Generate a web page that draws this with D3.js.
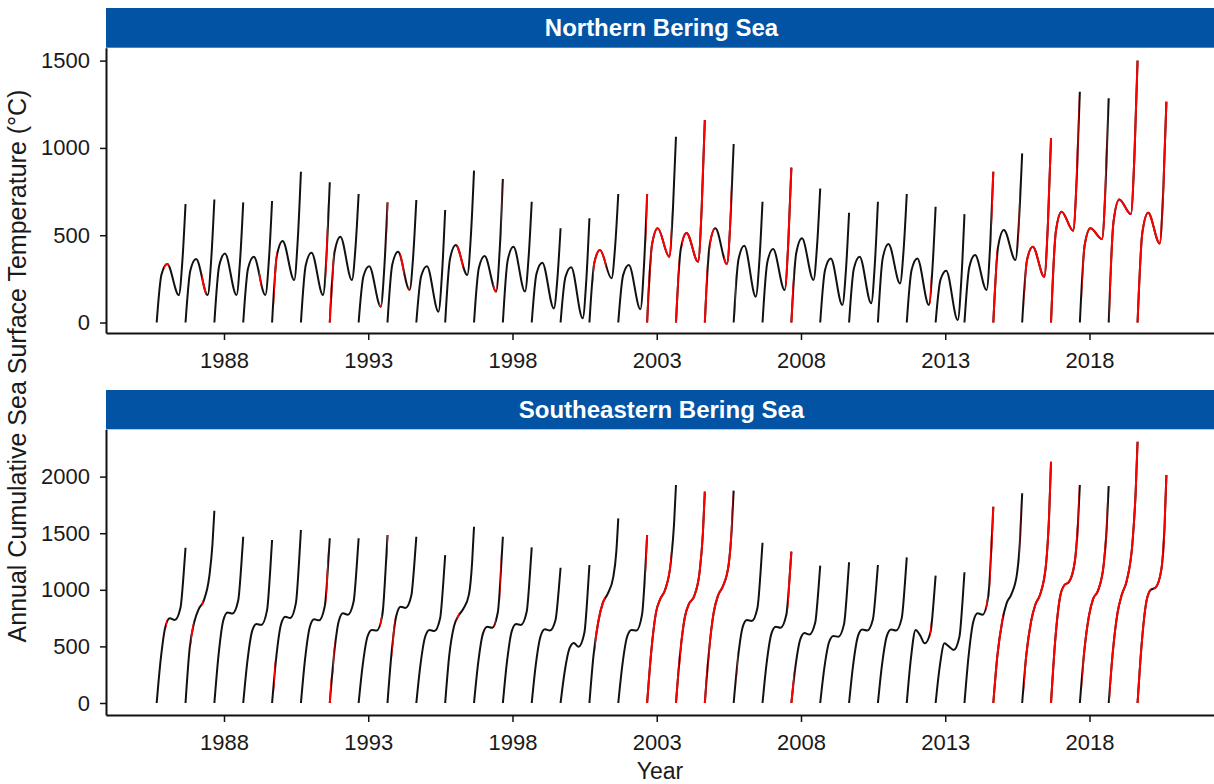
<!DOCTYPE html>
<html>
<head>
<meta charset="utf-8">
<script src="https://cdn.jsdelivr.net/npm/d3@7/dist/d3.min.js"></script>
<style>
  body { margin: 0; background: #fff; }
  text { font-family: Arial, "Liberation Sans", sans-serif; }
</style>
</head>
<body>
<svg id="chart" width="1214" height="784"></svg>
<script>
// each season runs from 1 Sep of the start year to 31 Aug of the next
const seasonStarts = [1985, 1986, 1987, 1988, 1989, 1990, 1991, 1992, 1993, 1994,
  1995, 1996, 1997, 1998, 1999, 2000, 2001, 2002, 2003, 2004,
  2005, 2006, 2007, 2008, 2009, 2010, 2011, 2012, 2013, 2014,
  2015, 2016, 2017, 2018, 2019];

// months after 1 Sep where the cumulative values were read
const northMonths = [0, 2.0, 4.4, 9.2, 10.7, 12];
const southMonths = [0, 1.7, 3.7, 5.5, 7.5, 9.9, 11.2, 12];

const northValues = [
  [0, 275, 335, 157, 355, 679],
  [0, 298, 364, 157, 365, 705],
  [0, 325, 396, 157, 359, 688],
  [0, 309, 377, 157, 362, 696],
  [0, 383, 467, 243, 479, 864],
  [0, 328, 400, 157, 402, 803],
  [0, 403, 491, 243, 430, 736],
  [0, 265, 323, 91, 318, 688],
  [0, 332, 405, 186, 382, 702],
  [0, 265, 323, 62, 283, 644],
  [0, 364, 444, 272, 499, 870],
  [0, 312, 381, 177, 422, 822],
  [0, 356, 434, 177, 373, 692],
  [0, 281, 343, 81, 255, 540],
  [0, 259, 316, 24, 242, 597],
  [0, 340, 415, 253, 437, 736],
  [0, 270, 329, 76, 327, 736],
  [0, 443, 540, 377, 638, 1064],
  [0, 421, 513, 348, 657, 1160],
  [0, 443, 540, 335, 596, 1022],
  [0, 361, 440, 148, 355, 692],
  [0, 345, 421, 186, 452, 887],
  [0, 395, 482, 243, 443, 768],
  [0, 301, 367, 100, 301, 629],
  [0, 309, 377, 110, 331, 692],
  [0, 369, 450, 224, 419, 736],
  [0, 301, 367, 100, 314, 663],
  [0, 244, 297, 14, 245, 621],
  [0, 317, 387, 186, 444, 864],
  [0, 435, 530, 358, 590, 969],
  [0, 356, 434, 262, 563, 1055],
  [0, 521, 635, 526, 828, 1322],
  [0, 443, 540, 478, 784, 1284],
  [0, 578, 705, 621, 955, 1500],
  [0, 516, 629, 453, 762, 1265]
];

const southValues = [
  [0, 389, 681, 748, 733, 842, 1136, 1372],
  [0, 480, 720, 830, 900, 1120, 1400, 1699],
  [0, 416, 728, 800, 790, 905, 1218, 1469],
  [0, 363, 635, 698, 690, 818, 1163, 1440],
  [0, 396, 693, 762, 750, 882, 1240, 1528],
  [0, 384, 672, 739, 730, 853, 1187, 1455],
  [0, 412, 721, 792, 780, 895, 1205, 1455],
  [0, 335, 587, 645, 640, 783, 1172, 1484],
  [0, 443, 774, 851, 840, 947, 1236, 1469],
  [0, 335, 587, 645, 635, 749, 1058, 1307],
  [0, 420, 680, 770, 830, 960, 1240, 1557],
  [0, 350, 613, 674, 665, 802, 1172, 1469],
  [0, 363, 635, 698, 690, 806, 1122, 1375],
  [0, 339, 592, 651, 640, 734, 990, 1195],
  [0, 276, 482, 530, 497, 620, 952, 1219],
  [0, 420, 720, 880, 960, 1110, 1340, 1631],
  [0, 335, 587, 645, 640, 783, 1172, 1484],
  [0, 450, 800, 920, 1000, 1250, 1580, 1926],
  [0, 430, 760, 880, 940, 1170, 1500, 1867],
  [0, 450, 800, 950, 1030, 1220, 1540, 1876],
  [0, 381, 667, 733, 725, 842, 1160, 1416],
  [0, 350, 613, 674, 665, 779, 1088, 1337],
  [0, 321, 562, 618, 605, 708, 988, 1213],
  [0, 308, 539, 592, 585, 697, 1000, 1243],
  [0, 337, 591, 649, 640, 738, 1005, 1219],
  [0, 337, 591, 649, 640, 750, 1048, 1287],
  [0, 390, 645, 600, 527, 629, 904, 1125],
  [0, 320, 527, 500, 468, 585, 901, 1155],
  [0, 412, 721, 792, 780, 942, 1381, 1734],
  [0, 420, 720, 880, 960, 1150, 1480, 1852],
  [0, 420, 720, 870, 960, 1220, 1650, 2132],
  [0, 540, 930, 1040, 1070, 1250, 1580, 1926],
  [0, 430, 760, 920, 990, 1220, 1560, 1917],
  [0, 450, 800, 960, 1080, 1420, 1860, 2308],
  [0, 520, 900, 1000, 1020, 1180, 1550, 2014]
];

// heatwave periods (red), months after 1 Sep
const northHeat = [
  [[3.0, 5.0]], [[6.8, 8.6]], [], [[6.6, 7.6]], [[0.8, 2.0]],
  [[10.2, 11.2]], [[0, 0.5], [1.0, 1.8]], [[8.5, 9.6], [11.7, 12]], [[5.3, 7.0], [8.7, 9.4]], [],
  [[4.8, 7.5]], [[8.0, 9.4], [11.4, 11.7]], [], [], [],
  [[1.5, 7.0]], [[11.5, 12]], [[0, 0.7], [1.3, 10.2]], [[0, 1.2], [2.5, 12]], [[0, 1.0], [2.0, 4.0], [8.0, 11.0]],
  [[0.6, 0.9]], [[9.5, 12]], [[0, 0.9]], [], [],
  [], [[9.7, 10.1]], [], [[11.2, 12]], [[0, 1.5], [10.5, 10.9]],
  [[1.0, 12]], [[0, 11.0], [11.4, 11.65]], [[1.0, 10.9], [11.2, 11.5]], [[0.3, 12]], [[0, 10.0], [10.3, 12]]
];

const southHeat = [
  [[3.8, 4.4]], [[2.2, 3.4], [6.6, 7.4]], [], [], [[0.8, 1.3]],
  [[10.5, 11.3]], [[0, 0.5], [1.3, 2.0]], [[8.9, 9.7], [11.8, 12]], [[2.0, 3.0]], [],
  [[4.8, 6.0]], [[8.5, 9.0], [10.9, 11.2]], [], [], [],
  [[2.3, 6.5]], [[11.3, 12]], [[0, 10.1]], [[0, 1.2], [1.6, 12]], [[0, 0.8], [1.5, 11.5]],
  [[1.3, 1.7]], [[10.5, 12]], [[0, 1.2]], [], [],
  [], [[9.7, 10.1]], [], [[9.0, 9.7], [10.5, 11.0], [11.3, 12]], [[0, 4.0], [10.9, 11.2]],
  [[0.8, 12]], [[0, 11.0], [11.3, 11.6]], [[1.0, 10.7], [11.0, 11.5]], [[0.3, 12]], [[0, 5.5], [6.5, 10.8], [11.0, 12]]
];

const yearTicks = [1988, 1993, 1998, 2003, 2008, 2013, 2018];
const northTicks = [0, 500, 1000, 1500];
const southTicks = [0, 500, 1000, 1500, 2000];

const colors = { line: "#111", heat: "#ff0000", strip: "#0353a4", axis: "#111", text: "#1a1a1a" };

const svg = d3.select("#chart");
const plotLeft = 106, plotRight = 1217;

const xScale = d3.scaleLinear().domain([1983.91, 2022.42]).range([plotLeft, plotRight]);

const panels = [
  { title: "Northern Bering Sea", stripTop: 8, top: 47.7, bottom: 333, domain: [-60, 1574],
    months: northMonths, values: northValues, heat: northHeat, ticks: northTicks, id: "n" },
  { title: "Southeastern Bering Sea", stripTop: 390, top: 429.3, bottom: 715, domain: [-106, 2418],
    months: southMonths, values: southValues, heat: southHeat, ticks: southTicks, id: "s" }
];

const toYear = (start, m) => start + 8 / 12 + m / 12;

panels.forEach(panel => {
  const yScale = d3.scaleLinear().domain(panel.domain).range([panel.bottom, panel.top]);

  // strip
  svg.append("rect")
    .attr("x", plotLeft)
    .attr("y", panel.stripTop)
    .attr("width", plotRight - plotLeft)
    .attr("height", panel.top - panel.stripTop)
    .attr("fill", colors.strip);

  svg.append("text")
    .attr("x", (plotLeft + plotRight) / 2)
    .attr("y", panel.stripTop + 28)
    .attr("text-anchor", "middle")
    .attr("fill", "#fff")
    .style("font-size", "24px")
    .style("font-weight", "bold")
    .text(panel.title);

  const line = d3.line()
    .x(d => xScale(d[0]))
    .y(d => yScale(d[1]))
    .curve(d3.curveMonotoneX);

  const curves = svg.append("g");

  seasonStarts.forEach((start, i) => {
    const pts = panel.months.map((m, j) => [toYear(start, m), panel.values[i][j]]);
    const pathD = line(pts);

    curves.append("path")
      .attr("d", pathD)
      .attr("fill", "none")
      .attr("stroke", colors.line)
      .attr("stroke-width", 2);

    if (panel.heat[i].length) {
      const clipId = `clip-${panel.id}-${start}`;
      const clip = svg.append("clipPath").attr("id", clipId);
      panel.heat[i].forEach(h => {
        const x0 = xScale(toYear(start, h[0])) - (h[0] === 0 ? 2 : 0);
        const x1 = xScale(toYear(start, h[1])) + (h[1] === 12 ? 2 : 0);
        clip.append("rect")
          .attr("x", x0)
          .attr("y", panel.top)
          .attr("width", x1 - x0)
          .attr("height", panel.bottom - panel.top);
      });
      curves.append("path")
        .attr("d", pathD)
        .attr("fill", "none")
        .attr("stroke", colors.heat)
        .attr("stroke-width", 2)
        .attr("clip-path", `url(#${clipId})`);
    }
  });

  // axes
  const yAxis = svg.append("g")
    .attr("transform", `translate(${plotLeft},0)`)
    .call(d3.axisLeft(yScale).tickValues(panel.ticks).tickFormat(d3.format("d"))
      .tickSize(6).tickSizeOuter(0).tickPadding(10));

  const xAxis = svg.append("g")
    .attr("transform", `translate(0,${panel.bottom})`)
    .call(d3.axisBottom(xScale).tickValues(yearTicks).tickFormat(d3.format("d"))
      .tickSize(7).tickSizeOuter(0).tickPadding(12));

  [yAxis, xAxis].forEach(ax => {
    ax.select(".domain").attr("stroke", colors.axis).attr("stroke-width", 2);
    ax.selectAll(".tick line").attr("stroke", colors.axis).attr("stroke-width", 1.5);
    ax.selectAll(".tick text")
      .attr("fill", colors.text)
      .style("font-size", "22px")
      .style("font-family", "Arial, 'Liberation Sans', sans-serif");
  });
});

svg.append("text")
  .attr("x", 660)
  .attr("y", 779)
  .attr("text-anchor", "middle")
  .attr("fill", colors.text)
  .style("font-size", "23px")
  .text("Year");

svg.append("text")
  .attr("transform", "translate(26,366) rotate(-90)")
  .attr("text-anchor", "middle")
  .attr("fill", colors.text)
  .style("font-size", "25px")
  .text("Annual Cumulative Sea Surface Temperature (°C)");
</script>
</body>
</html>
